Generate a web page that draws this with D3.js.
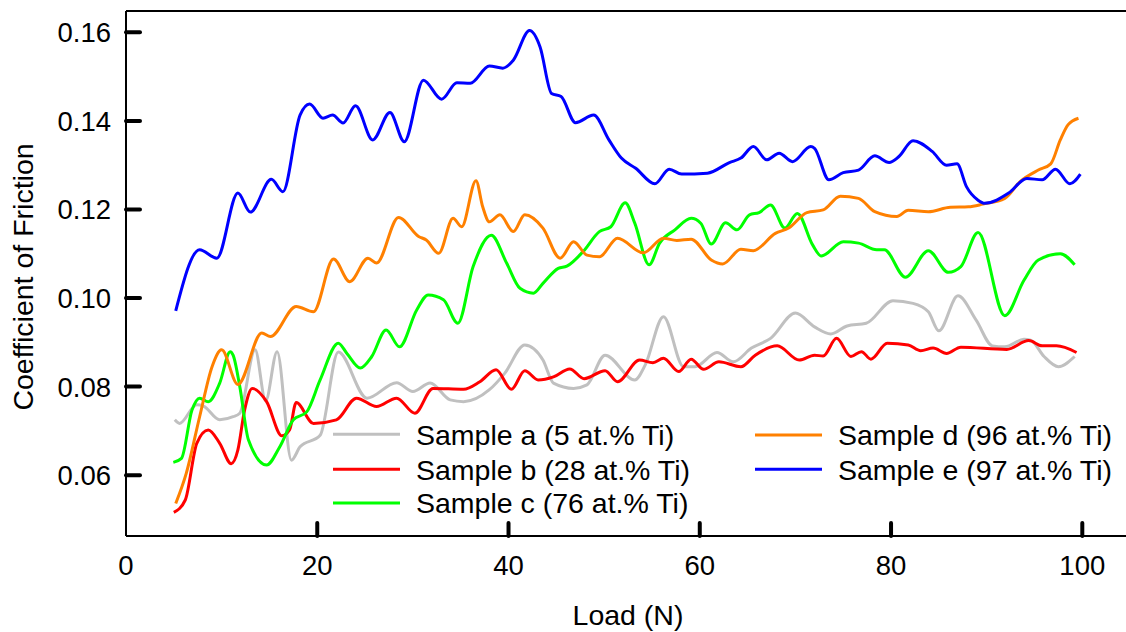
<!DOCTYPE html>
<html><head><meta charset="utf-8">
<script src="https://cdn.jsdelivr.net/npm/d3@7"></script>
<style>
html,body{margin:0;padding:0;background:#fff;}
svg{display:block;}
text{font-family:"Liberation Sans",Arial,sans-serif;fill:#000;}
</style></head>
<body>
<svg id="chart" width="1126" height="632"></svg>
<script>
// ---- data ----
const xTicks = [0, 20, 40, 60, 80, 100];
const yTicks = [0.06, 0.08, 0.10, 0.12, 0.14, 0.16];
const seriesNames = ["Sample a (5 at.% Ti)", "Sample b (28 at.% Ti)", "Sample c (76 at.% Ti)", "Sample d (96 at.% Ti)", "Sample e (97 at.% Ti)"];
const seriesColors = ["#c0c0c0", "#ff0000", "#00ff00", "#ff8000", "#0000ff"];

const loadA = [5.1,5.6,7.4,8.1,9.8,11.2,11.9,13.5,14.6,15.8,17.3,18.2,20.3,22.2,25.2,28.3,30.0,31.8,33.9,35.3,38.0,39.6,41.7,43.6,44.7,46.8,48.2,50.1,53.2,54.3,56.2,58.3,59.5,61.8,63.5,65.4,67.4,70.0,72.0,73.7,75.4,77.4,80.2,82.3,83.9,85.0,87.0,88.9,90.6,91.9,93.9,94.6,96.0,97.5,99.2];
const cofA  = [.0725,.0717,.0759,.0756,.0725,.0732,.0740,.0883,.0768,.0879,.0634,.0664,.0690,.0878,.0774,.0809,.0789,.0808,.0770,.0766,.0793,.0830,.0894,.0860,.0808,.0796,.0804,.0871,.0815,.0849,.0958,.0845,.0845,.0877,.0856,.0887,.0909,.0966,.0935,.0919,.0937,.0943,.0994,.0988,.0969,.0926,.1005,.0950,.0892,.0890,.0907,.0905,.0868,.0845,.0868];

const loadB = [5.0,6.2,7.4,8.6,9.8,11.0,11.7,12.4,13.2,14.7,16.3,17.1,17.8,19.6,22.0,24.1,26.2,28.3,30.2,32.1,35.3,37.0,38.7,40.3,41.7,43.1,44.7,46.4,47.9,50.1,51.4,53.7,55.1,56.2,57.8,59.1,60.4,62.0,64.3,65.8,68.1,70.4,72.0,72.9,74.3,75.8,76.9,77.9,79.6,81.8,83.1,84.4,85.8,87.3,92.1,94.4,95.8,97.3,99.4];
const cofB  = [.0516,.0544,.0672,.0702,.0672,.0626,.0657,.0747,.0796,.0766,.0689,.0702,.0764,.0717,.0725,.0774,.0755,.0774,.0740,.0796,.0794,.0811,.0838,.0794,.0836,.0815,.0822,.0840,.0818,.0836,.0811,.0860,.0854,.0864,.0834,.0862,.0839,.0856,.0845,.0871,.0892,.0860,.0871,.0869,.0909,.0868,.0879,.0862,.0898,.0894,.0881,.0887,.0875,.0889,.0884,.0904,.0892,.0892,.0877];

const loadC = [4.95,5.8,6.9,7.7,8.6,9.8,10.9,11.2,11.9,12.8,14.7,16.1,17.5,18.9,20.3,22.2,23.1,24.5,25.7,27.2,28.6,30.4,31.6,33.2,34.7,36.3,38.2,39.8,41.2,42.6,43.6,45.2,46.1,47.8,49.5,50.7,52.2,53.2,54.7,55.8,57.4,59.1,60.1,61.2,62.7,63.9,65.2,66.2,67.4,68.9,70.2,71.8,72.7,75.0,76.6,78.5,79.3,81.5,83.9,86.0,87.3,89.1,91.9,93.9,95.4,97.7,99.2];
const cofC  = [.0629,.0638,.0747,.0774,.0766,.0808,.0879,.0871,.0800,.0680,.0623,.0665,.0725,.0743,.0815,.0898,.0875,.0842,.0868,.0928,.0890,.0973,.1007,.0996,.0943,.1071,.1142,.1079,.1022,.1011,.1033,.1067,.1072,.1105,.1150,.1161,.1215,.1169,.1075,.1124,.1154,.1180,.1169,.1122,.1170,.1154,.1188,.1193,.1210,.1158,.1191,.1120,.1095,.1127,.1124,.1109,.1109,.1047,.1107,.1058,.1071,.1148,.0960,.1040,.1086,.1100,.1075];

const loadD = [5.2,6.3,7.7,9.0,10.0,11.7,14.2,15.1,17.8,19.6,21.7,23.4,25.3,26.2,28.5,30.6,31.4,32.7,34.2,35.1,36.6,37.3,38.0,39.1,40.5,41.7,43.6,45.4,46.8,48.2,49.5,51.4,54.1,56.2,57.6,59.1,61.2,62.4,64.3,65.6,67.9,69.3,71.2,72.9,74.7,76.6,78.3,80.6,81.8,83.9,86.2,88.1,89.6,91.9,93.5,95.4,96.7,97.7,98.5,99.6];
const cofD  = [.0536,.0604,.0732,.0845,.0883,.0805,.0921,.0913,.0981,.0969,.1088,.1037,.1090,.1079,.1182,.1139,.1131,.1101,.1180,.1161,.1265,.1206,.1172,.1188,.1150,.1188,.1158,.1090,.1127,.1097,.1093,.1135,.1102,.1135,.1130,.1133,.1086,.1077,.1110,.1107,.1146,.1158,.1193,.1199,.1230,.1225,.1195,.1184,.1198,.1195,.1205,.1206,.1212,.1225,.1263,.1289,.1303,.1357,.1391,.1406];

const loadE = [5.2,7.7,9.5,11.7,13.0,15.2,16.4,18.2,19.2,20.6,21.6,22.7,24.0,25.8,27.6,29.1,31.1,33.0,34.6,36.0,38.0,39.4,40.5,42.2,43.3,44.5,45.5,47.0,48.9,50.5,51.8,53.3,55.3,56.8,58.1,60.8,63.1,64.3,65.6,67.0,68.3,69.7,71.6,72.0,73.5,75.0,76.6,78.3,79.8,80.8,82.3,84.3,85.8,86.9,87.9,89.1,89.8,92.3,94.2,95.8,97.2,98.7,99.8];
const cofE  = [.0971,.1109,.1090,.1237,.1194,.1268,.1240,.1413,.1438,.1406,.1413,.1395,.1434,.1357,.1419,.1353,.1492,.1449,.1486,.1485,.1524,.1519,.1537,.1604,.1567,.1462,.1455,.1396,.1413,.1357,.1316,.1293,.1258,.1291,.1280,.1282,.1306,.1316,.1342,.1312,.1327,.1308,.1342,.1338,.1267,.1283,.1289,.1321,.1306,.1319,.1355,.1331,.1300,.1303,.1251,.1221,.1214,.1237,.1270,.1267,.1291,.1258,.1280];

const seriesLoads = [loadA, loadB, loadC, loadD, loadE];
const seriesCofs  = [cofA, cofB, cofC, cofD, cofE];

// ---- layout ----
const svg = d3.select("#chart");
const plotLeft = 126, plotTop = 11, plotBottom = 536, plotRightEdge = 1126;
const x = d3.scaleLinear().domain([0, 100]).range([126, 1082.3]);
const y = d3.scaleLinear().domain([0.06, 0.16]).range([475.2, 32.3]);

// frame (left, top, bottom)
svg.append("line").attr("x1", plotLeft).attr("x2", plotRightEdge).attr("y1", plotTop).attr("y2", plotTop).attr("stroke", "#000").attr("stroke-width", 2);
svg.append("line").attr("x1", plotLeft).attr("x2", plotRightEdge).attr("y1", plotBottom).attr("y2", plotBottom).attr("stroke", "#000").attr("stroke-width", 2);
svg.append("line").attr("x1", plotLeft).attr("x2", plotLeft).attr("y1", plotTop).attr("y2", plotBottom).attr("stroke", "#000").attr("stroke-width", 2);

// y ticks
const yg = svg.append("g");
yTicks.forEach(t => {
  yg.append("line").attr("x1", plotLeft).attr("x2", plotLeft + 14).attr("y1", y(t)).attr("y2", y(t))
    .attr("stroke", "#000").attr("stroke-width", 4).attr("stroke-linecap", "round");
  yg.append("text").attr("x", 111).attr("y", y(t)).attr("dy", "0.36em").attr("text-anchor", "end")
    .attr("font-size", 27.5).text(d3.format(".2f")(t));
});
// x ticks
const xg = svg.append("g");
xTicks.forEach(t => {
  if (t > 0) xg.append("line").attr("x1", x(t)).attr("x2", x(t)).attr("y1", plotBottom).attr("y2", plotBottom - 13)
    .attr("stroke", "#000").attr("stroke-width", 4).attr("stroke-linecap", "round");
  xg.append("text").attr("x", x(t)).attr("y", 575).attr("text-anchor", "middle")
    .attr("font-size", 27.5).text(t);
});

// axis titles
svg.append("text").attr("x", 628).attr("y", 625).attr("text-anchor", "middle").attr("font-size", 28.5).text("Load (N)");
svg.append("text").attr("transform", "translate(33,277) rotate(-90)").attr("text-anchor", "middle").attr("font-size", 28.5).text("Coefficient of Friction");

// lines
const line = d3.line().x(d => x(d[0])).y(d => y(d[1])).curve(d3.curveMonotoneX);
seriesLoads.forEach((ls, i) => {
  const pts = ls.map((v, j) => [v, seriesCofs[i][j]]);
  svg.append("path").datum(pts).attr("d", line).attr("fill", "none")
    .attr("stroke", seriesColors[i]).attr("stroke-width", 3).attr("stroke-linejoin", "round");
});

// legend
const legendPos = [[333, 434.3], [333, 469.3], [333, 503], [755, 435], [755, 469.3]];
seriesNames.forEach((n, i) => {
  const [lx, ly] = legendPos[i];
  svg.append("line").attr("x1", lx).attr("x2", lx + 67).attr("y1", ly).attr("y2", ly)
    .attr("stroke", seriesColors[i]).attr("stroke-width", 3);
  svg.append("text").attr("x", lx + 83).attr("y", ly).attr("dy", "0.36em").attr("font-size", 28.5).text(n);
});
</script>
</body></html>
